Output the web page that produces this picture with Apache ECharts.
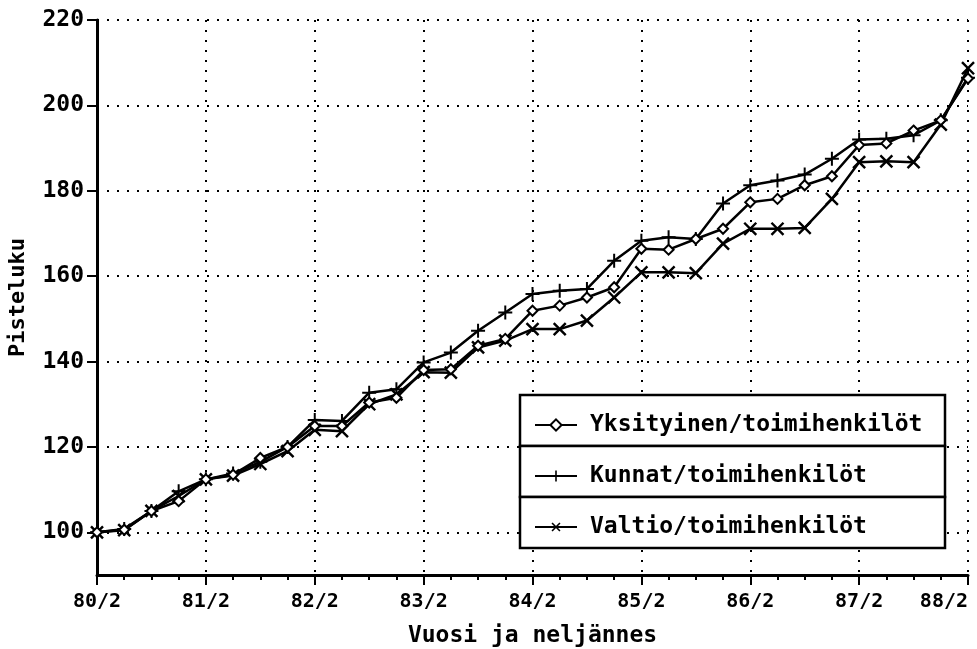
<!DOCTYPE html>
<html>
<head>
<meta charset="utf-8">
<script src="https://cdn.jsdelivr.net/npm/echarts@6/dist/echarts.min.js"></script>
<style>html,body{margin:0;padding:0;background:#fff}#c{width:977px;height:649px}</style>
</head>
<body>
<div id="c"></div>
<script>
// Quarters 80/2 .. 88/2 (index 0..32)
const xTickLabels = ['80/2','81/2','82/2','83/2','84/2','85/2','86/2','87/2','88/2'];
const yTicks = [100,120,140,160,180,200,220];
const seriesNames = ['Yksityinen/toimihenkilöt','Kunnat/toimihenkilöt','Valtio/toimihenkilöt'];
const yksityinen = [100,100.6,105,107.3,112.4,113.5,117.4,120,124.9,124.9,130.4,131.5,138,138.2,143.7,145.3,151.9,153.1,155,157.4,166.4,166.2,168.7,171.1,177.3,178.1,181.3,183.4,190.7,191.1,194.1,196.5,206.3];
const kunnat = [100,100.8,105,109.6,112.4,113.8,116.5,120,126.3,126.1,132.7,133.5,139.8,142.1,147.2,151.5,155.8,156.6,157,163.6,168.3,169.1,168.7,177,181.3,182.4,183.8,187.5,192,192.2,193,196.5,206.5];
const valtio = [100,100.5,105,108.5,112.4,113.3,116,119,124,123.7,130,132.3,137.5,137.4,143.3,144.9,147.6,147.6,149.6,155,160.9,160.9,160.7,167.6,171.1,171.1,171.3,178.1,186.7,186.9,186.7,195.5,208.7];

const FONT = 'DejaVu Sans Mono';
const toPairs = arr => arr.map((v, i) => [i, v]);
const plusPath = 'path://M0,6H14V8H0Z M6,0H8V14H6Z';

const chart = echarts.init(document.getElementById('c'), null, {renderer: 'canvas'});
const dotted = {color: '#000', width: 2, type: [2, 8]};

chart.setOption({
  animation: false,
  backgroundColor: '#fff',
  grid: {left: 97, right: 9, top: 20, bottom: 74, containLabel: false, outerBoundsMode: 'none'},
  xAxis: {
    type: 'value', min: 0, max: 32, interval: 4,
    name: 'Vuosi ja neljännes', nameLocation: 'middle', nameGap: 50,
    nameTextStyle: {fontFamily: FONT, fontWeight: 'bold', fontSize: 23, color: '#000'},
    axisLine: {show: true, onZero: false, lineStyle: {color: '#000', width: 3}},
    axisTick: {show: true, length: 10, lineStyle: {color: '#000', width: 2}},
    minorTick: {show: true, splitNumber: 4, length: 5, lineStyle: {color: '#000', width: 2}},
    axisLabel: {margin: 17, fontFamily: FONT, fontWeight: 'bold', fontSize: 20, color: '#000',
      alignMaxLabel: 'right',
      formatter: v => xTickLabels[Math.round(v / 4)] || ''},
    splitLine: {show: true, lineStyle: dotted}
  },
  yAxis: {
    type: 'value', min: 90, max: 220,
    name: 'Pisteluku', nameLocation: 'middle', nameGap: 68, nameRotate: 90,
    nameTextStyle: {fontFamily: FONT, fontWeight: 'bold', fontSize: 22, color: '#000'},
    axisLine: {show: true, onZero: false, lineStyle: {color: '#000', width: 3}},
    axisTick: {show: true, length: 10, customValues: yTicks, lineStyle: {color: '#000', width: 2}},
    axisLabel: {margin: 13, customValues: yTicks, fontFamily: FONT, fontWeight: 'bold', fontSize: 23, color: '#000'},
    splitLine: {show: true, lineStyle: dotted}
  },
  legend: {
    orient: 'vertical', left: 529, top: 408, z: 10,
    itemWidth: 42, itemHeight: 14, itemGap: 27,
    data: seriesNames,
    textStyle: {fontFamily: FONT, fontWeight: 'bold', fontSize: 23, color: '#000', lineHeight: 24, padding: [0, 0, 0, 8]},
    inactiveColor: '#000'
  },
  graphic: [
    {type: 'rect', z: 5, shape: {x: 520, y: 395, width: 425, height: 51}, style: {fill: '#fff', stroke: '#000', lineWidth: 2.5}},
    {type: 'rect', z: 5, shape: {x: 520, y: 446, width: 425, height: 51}, style: {fill: '#fff', stroke: '#000', lineWidth: 2.5}},
    {type: 'rect', z: 5, shape: {x: 520, y: 497, width: 425, height: 51}, style: {fill: '#fff', stroke: '#000', lineWidth: 2.5}}
  ],
  series: [
    {name: seriesNames[1], type: 'line', data: toPairs(kunnat), z: 3,
     symbol: plusPath, symbolSize: 14, showAllSymbol: true,
     lineStyle: {color: '#000', width: 2.5}, itemStyle: {color: '#000'}},
    {name: seriesNames[2], type: 'line', data: toPairs(valtio), z: 3,
     symbol: plusPath, symbolRotate: 45, symbolSize: 17, showAllSymbol: true,
     lineStyle: {color: '#000', width: 2.5}, itemStyle: {color: '#000'}},
    {name: seriesNames[0], type: 'line', data: toPairs(yksityinen), z: 4,
     symbol: 'diamond', symbolSize: 10, showAllSymbol: true,
     lineStyle: {color: '#000', width: 2.5}, itemStyle: {color: '#fff', borderColor: '#000', borderWidth: 2}}
  ]
});
</script>
</body>
</html>
